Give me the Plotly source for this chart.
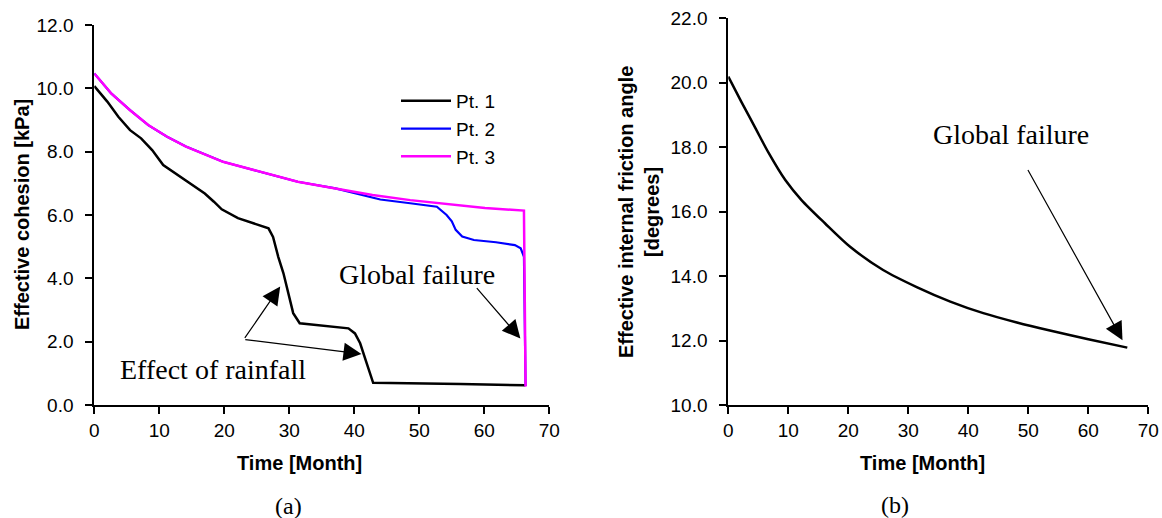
import plotly.graph_objects as go

# ---- data ----
t_pt1 = [0, 2.0, 3.7, 5.5, 7.2, 8.9, 10.6, 12.4, 14.7, 17.0, 18.4, 19.6, 22.1, 25.5, 26.8, 27.5,
         28.3, 29.1, 29.85, 30.6, 31.6, 35.75, 39.1, 40.1, 40.9, 41.9, 42.9, 56.3, 66.3]
c_pt1 = [10.07, 9.58, 9.10, 8.68, 8.42, 8.05, 7.58, 7.32, 7.00, 6.68, 6.42, 6.18, 5.90, 5.68, 5.58, 5.31,
         4.68, 4.16, 3.53, 2.90, 2.58, 2.49, 2.42, 2.26, 1.95, 1.32, 0.70, 0.66, 0.62]

t_pt2 = [0, 2.6, 5.5, 8.3, 11.2, 14.1, 19.8, 25.6, 31.3, 37.1, 40.5, 42.3, 44.0, 48.6, 52.7, 54.2,
         55.0, 55.6, 56.6, 58.4, 61.8, 64.7, 65.6, 66.1, 66.35]
c_pt2 = [10.47, 9.84, 9.31, 8.84, 8.47, 8.16, 7.68, 7.37, 7.05, 6.84, 6.66, 6.58, 6.49, 6.37, 6.26, 6.00,
         5.80, 5.53, 5.32, 5.21, 5.14, 5.05, 4.95, 4.68, 0.60]

t_pt3 = [0, 2.6, 5.5, 8.3, 11.2, 14.1, 19.8, 25.6, 31.3, 37.1, 42.8, 48.6, 54.3, 60.1, 66.1, 66.35]
c_pt3 = [10.47, 9.84, 9.31, 8.84, 8.47, 8.16, 7.68, 7.37, 7.05, 6.84, 6.63, 6.47, 6.34, 6.22, 6.14, 0.58]

t_phi = [0, 2.2, 4.5, 6.7, 9.5, 12.2, 16.1, 20.3, 25.8, 31.4, 37.0, 42.5, 48.1, 53.6, 60.0, 66.5]
phi = [20.19, 19.40, 18.60, 17.83, 16.98, 16.36, 15.64, 14.91, 14.19, 13.66, 13.21, 12.85, 12.56, 12.31, 12.04, 11.78]

series_names = ["Pt. 1", "Pt. 2", "Pt. 3"]
x_ticks = [0, 10, 20, 30, 40, 50, 60, 70]
y_ticks_a = [0, 2, 4, 6, 8, 10, 12]
y_ticks_b = [10, 12, 14, 16, 18, 20, 22]

SANS = "Liberation Sans, Arial, sans-serif"
SERIF = "Liberation Serif, Times New Roman, serif"
W, H = 1162, 518

fig = go.Figure()
fig.add_trace(go.Scatter(x=t_pt1, y=c_pt1, mode="lines", name=series_names[0],
                         line=dict(color="#000000", width=2.5), xaxis="x", yaxis="y"))
fig.add_trace(go.Scatter(x=t_pt2, y=c_pt2, mode="lines", name=series_names[1],
                         line=dict(color="#0000FF", width=2.2), xaxis="x", yaxis="y"))
fig.add_trace(go.Scatter(x=t_pt3, y=c_pt3, mode="lines", name=series_names[2],
                         line=dict(color="#FF00FF", width=2.5), xaxis="x", yaxis="y"))
fig.add_trace(go.Scatter(x=t_phi, y=phi, mode="lines", showlegend=False,
                         line=dict(color="#000000", width=2.5, shape="spline", smoothing=0.8),
                         xaxis="x2", yaxis="y2"))

axis_common = dict(showline=True, linecolor="black", linewidth=2, ticks="outside", ticklen=7,
                   tickwidth=1.5, tickcolor="black", showgrid=False, zeroline=False,
                   tickfont=dict(family=SANS, size=19, color="black"), fixedrange=True,
                   automargin=False)

fig.update_layout(
    width=W, height=H, margin=dict(l=0, r=0, t=0, b=0, pad=0, autoexpand=False),
    paper_bgcolor="white", plot_bgcolor="white",
    xaxis=dict(domain=[94.3 / W, 549.3 / W], range=[0, 70], tickvals=x_ticks, anchor="y", **axis_common),
    yaxis=dict(domain=[(H - 405) / H, (H - 25) / H], range=[0, 12], tickvals=y_ticks_a,
               tickformat=".1f", anchor="x", ticklabelstandoff=8, **axis_common),
    xaxis2=dict(domain=[728.3 / W, 1148.3 / W], range=[0, 70], tickvals=x_ticks, anchor="y2", **axis_common),
    yaxis2=dict(domain=[(H - 405) / H, (H - 18.3) / H], range=[10, 22], tickvals=y_ticks_b,
                tickformat=".1f", anchor="x2", ticklabelstandoff=8, **axis_common),
    showlegend=True,
    legend=dict(x=396 / W, y=(H - 82) / H, xanchor="left", yanchor="top", bgcolor="rgba(0,0,0,0)",
                font=dict(family=SANS, size=19, color="black"), itemwidth=50, tracegroupgap=0),
)

ann = []
def txt(text, x, y, size, family, bold=False, angle=0, xref="paper", yref="paper"):
    ann.append(dict(text=f"<b>{text}</b>" if bold else text, x=x, y=y, xref=xref, yref=yref,
                    showarrow=False, textangle=angle, xanchor="center", yanchor="middle",
                    font=dict(family=family, size=size, color="black")))

def arrow(x, y, ax, ay, xr, yr):
    ann.append(dict(text="", x=x, y=y, ax=ax, ay=ay, xref=xr, yref=yr, axref=xr, ayref=yr,
                    showarrow=True, arrowhead=2, arrowsize=3, arrowwidth=1.2, arrowcolor="black"))

# axis titles
txt("Effective cohesion [kPa]", 22 / W, (H - 215) / H, 20, SANS, True, -90)
txt("Effective internal friction angle<br>[degrees]", 639 / W, (H - 212) / H, 20, SANS, True, -90)
txt("Time [Month]", 299 / W, (H - 463) / H, 20, SANS, True)
txt("Time [Month]", 922.5 / W, (H - 463) / H, 20, SANS, True)
txt("(a)", 288 / W, (H - 506) / H, 24, SERIF)
txt("(b)", 895 / W, (H - 505) / H, 24, SERIF)

# in-plot annotations
txt("Global failure", 49.7, 4.12, 28, SERIF, xref="x", yref="y")
txt("Effect of rainfall", 18.2, 1.13, 28, SERIF, xref="x", yref="y")
txt("Global failure", 47.1, 18.38, 28, SERIF, xref="x2", yref="y2")

arrow(65.55, 2.1, 58.65, 3.74, "x", "y")
arrow(28.6, 3.74, 23.0, 2.07, "x", "y")
arrow(41.1, 1.61, 23.0, 2.07, "x", "y")
arrow(65.7, 12.01, 49.8, 17.34, "x2", "y2")

fig.update_layout(annotations=ann)
fig.write_html("out.html", config={"displayModeBar": False},
               post_script="document.body.style.margin='0px';")
